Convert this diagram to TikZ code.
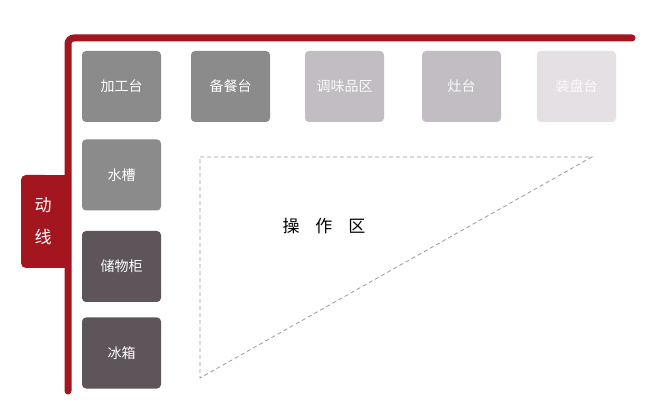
\documentclass[tikz,border=0pt]{standalone}
\usepackage{fontspec}
\newfontfamily\cjk{Noto Sans CJK SC}
\usetikzlibrary{calc}

\definecolor{lineRed}{HTML}{A3151F}
\definecolor{darkGray}{HTML}{8B8B8C}
\definecolor{midGray}{HTML}{C1BDC2}
\definecolor{paleGray}{HTML}{E5E0E4}
\definecolor{deepGray}{HTML}{5D5559}
\definecolor{dashGray}{HTML}{9A9A9A}

\begin{document}
\begin{tikzpicture}[x=1pt, y=-1pt]  % 1 unit = 1 px of the layout, y downwards

    % Define some common styles
    \tikzset{
        unit/.style={rounded corners=4, minimum width=79, minimum height=71,
            inner sep=0pt, font=\cjk\fontsize{14}{14}\selectfont, text=white},
        zone/.style={dashed, dash pattern=on 4pt off 3pt, draw=dashGray, line width=0.8pt}
    }

    % Page size - 662 x 406
    \useasboundingbox[fill=white] (0,0) rectangle (662,406);

    % Flow tab (left)
    \fill[lineRed, rounded corners=5] (21,175) rectangle (50,268);
    \fill[lineRed] (40,175) rectangle (68,268);
    \node[text=white, font=\cjk\fontsize{17}{17}\selectfont] (dong) at (43,205) {动};
    \node[text=white, font=\cjk\fontsize{17}{17}\selectfont] (xian) at (43,237) {线};

    % Flow line - L shape
    \draw[lineRed, line width=7, rounded corners=6, line cap=round] (68,391) -- (68,38) -- (632,38);

    % Top row of units
    \node[unit, fill=darkGray] (jiagong) at (121.5,86.5) {加工台};
    \node[unit, fill=darkGray] (beican) at (230.5,86.5) {备餐台};
    \node[unit, fill=midGray, text=white!92!midGray] (tiaowei) at (344.5,86.5) {调味品区};
    \node[unit, fill=midGray, text=white!92!midGray] (zaotai) at (461.5,86.5) {灶台};
    \node[unit, fill=paleGray, text=white!85!paleGray] (zhuangpan) at (576.5,86.5) {装盘台};

    % Left column of units
    \node[unit, fill=darkGray] (shuicao) at (121.5,175) {水槽};
    \node[unit, fill=deepGray] (chuwu) at (121.5,266.5) {储物柜};
    \node[unit, fill=deepGray] (bingxiang) at (121.5,353) {冰箱};

    % Working area - dashed triangle
    \draw[zone] (200,157) -- (592,157) -- (200,378) -- cycle;
    \node[font=\cjk\fontsize{17}{17}\selectfont] (caozuo) at (324,226)
        {操\hspace{16pt}作\hspace{16pt}区};

\end{tikzpicture}
\end{document}
